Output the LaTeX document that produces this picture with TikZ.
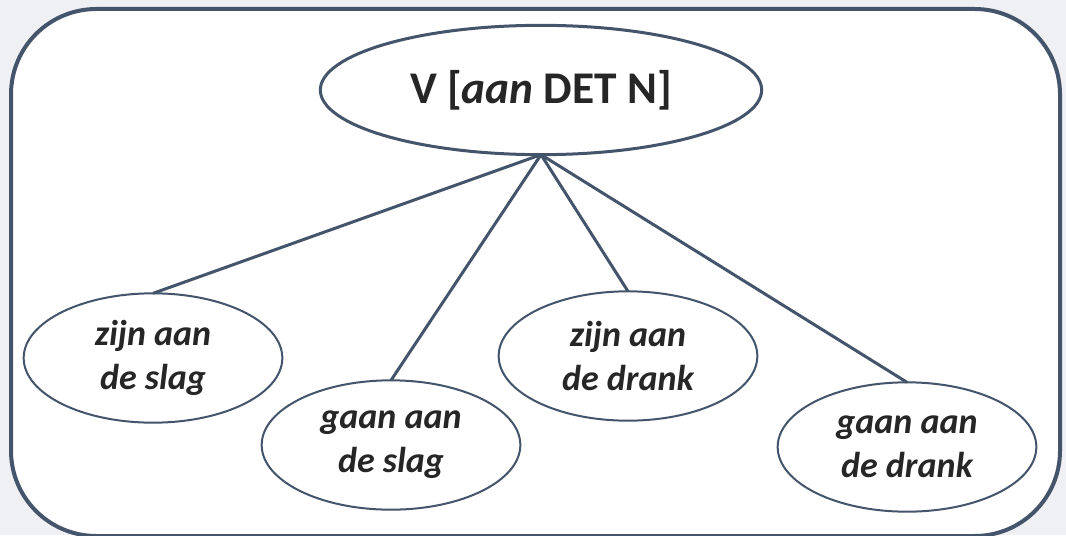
\documentclass[tikz,border=0pt]{standalone}
\usepackage{fontspec}
\setmainfont{Carlito}
\usetikzlibrary{shapes.geometric}

\definecolor{slate}{HTML}{44546A}
\definecolor{paper}{HTML}{EEF0F4}
\definecolor{ink}{HTML}{262626}

\tikzset{
	head/.style={ellipse, draw=slate, line width=2.25pt, fill=white, text=ink, inner sep=0pt, outer sep=0pt,
		minimum width=331pt, minimum height=97pt, font=\fontsize{34}{40}\selectfont\bfseries},
	leaf/.style={ellipse, draw=slate, line width=1.5pt, fill=white, text=ink, inner sep=0pt, outer sep=0pt,
		minimum width=194pt, minimum height=97pt, align=center, font=\fontsize{27}{33}\selectfont\bfseries\itshape},
	link/.style={draw=slate, line width=2.25pt}
}

\begin{document}
\begin{tikzpicture}[x=0.75pt, y=-0.75pt]
		\fill[paper] (0,0) rectangle (1066,535);
		\useasboundingbox (0,0) rectangle (1066,535);
		\draw[slate, fill=white, line width=3pt, rounded corners=64pt] (11,9) rectangle (1060,536);

		% the lines go under the ellipses
		\node (head)[head] at (541,90) {V [\textit{aan} DET N]};
		\node (zslag)[leaf] at (153,358) {zijn aan\\de slag};
		\node (gslag)[leaf] at (391,445) {gaan aan\\de slag};
		\node (zdrank)[leaf] at (628,356) {zijn aan\\de drank};
		\node (gdrank)[leaf] at (907,447) {gaan aan\\de drank};

		\draw[link] (head.south) -- (zslag.north);
		\draw[link] (head.south) -- (gslag.north);
		\draw[link] (head.south) -- (zdrank.north);
		\draw[link] (head.south) -- (gdrank.north);
	\end{tikzpicture}
\end{document}
